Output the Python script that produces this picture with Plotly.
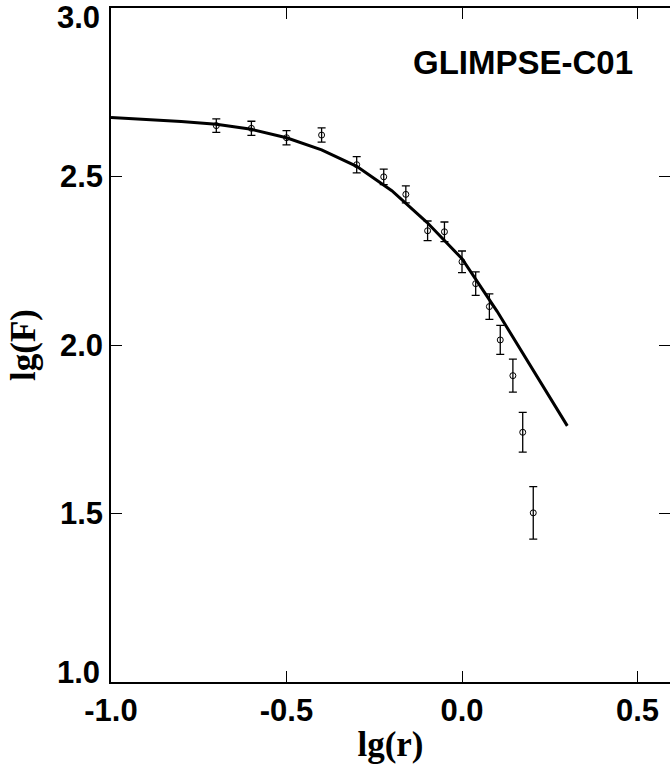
import plotly.graph_objects as go

# Observed data points
lg_r = [-0.70, -0.60, -0.50, -0.40, -0.30, -0.223, -0.160, -0.098, -0.050, 0.000, 0.039, 0.078, 0.109, 0.145, 0.173, 0.203]
lg_F = [2.651, 2.643, 2.615, 2.623, 2.535, 2.499, 2.447, 2.339, 2.336, 2.247, 2.182, 2.114, 2.015, 1.909, 1.741, 1.502]
err_F = [0.020, 0.021, 0.021, 0.021, 0.024, 0.023, 0.025, 0.029, 0.029, 0.032, 0.035, 0.038, 0.043, 0.049, 0.059, 0.078]

# Model curve
model_r = [-1.0, -0.9, -0.8, -0.7, -0.6, -0.5, -0.4, -0.3, -0.2, -0.1, 0.0, 0.1, 0.2, 0.3]
model_F = [2.675, 2.670, 2.663, 2.655, 2.640, 2.615, 2.579, 2.530, 2.458, 2.364, 2.256, 2.100, 1.930, 1.760]

x_ticks = [-1.0, -0.5, 0.0, 0.5]
x_ticktext = ["-1.0", "-0.5", "0.0", "0.5"]
y_ticks = [1.0, 1.5, 2.0, 2.5, 3.0]
y_ticktext = ["1.0", "1.5", "2.0", "2.5", "3.0"]

label_text = "GLIMPSE-C01"
x_title = "lg(r)"
y_title = "lg(F)"

TICK_FONT = dict(family="Liberation Sans, Arial", size=31, color="black", weight="bold")
TITLE_FONT = dict(family="Liberation Serif, Times New Roman", size=35, color="black", weight="bold")

fig = go.Figure()
fig.add_trace(go.Scatter(
    x=model_r, y=model_F, mode="lines",
    line=dict(color="black", width=3), showlegend=False, hoverinfo="skip"))
fig.add_trace(go.Scatter(
    x=lg_r, y=lg_F, mode="markers",
    marker=dict(symbol="circle-open", size=6, color="black", line=dict(width=1, color="black")),
    error_y=dict(type="data", array=err_F, visible=True, color="black", thickness=1.3, width=4),
    showlegend=False))
# invisible anchor trace so the right-hand tick axis is drawn
fig.add_trace(go.Scatter(
    x=[model_r[0]], y=[model_F[0]], yaxis="y2", mode="markers",
    marker=dict(opacity=0), showlegend=False, hoverinfo="skip"))

fig.add_annotation(x=0.4929, y=2.838, xref="x", yref="y", text=label_text,
                   showarrow=False, xanchor="right", yanchor="middle",
                   font=dict(family="Liberation Sans, Arial", size=33, color="black", weight="bold"))

# end labels of the y axis sit inside the frame (top-aligned / bottom-aligned)
y_shown = [t if v not in (1.0, 3.0) else "" for v, t in zip(y_ticks, y_ticktext)]
fig.add_annotation(x=-1.0, y=3.0, xref="x", yref="y", text=y_ticktext[-1], showarrow=False,
                   xanchor="right", yanchor="middle", xshift=-9, yshift=-9, font=TICK_FONT)
fig.add_annotation(x=-1.0, y=1.0, xref="x", yref="y", text=y_ticktext[0], showarrow=False,
                   xanchor="right", yanchor="middle", xshift=-9, yshift=9.5, font=TICK_FONT)

# y-axis title
fig.add_annotation(x=(23 - 111) / 559, y=0.5, xref="paper", yref="paper", text=y_title,
                   showarrow=False, textangle=-90, xanchor="center", yanchor="middle",
                   font=TITLE_FONT)

tick_common = dict(ticks="inside", ticklen=11, tickwidth=1.3, tickcolor="black",
                   showgrid=False, zeroline=False, tickfont=TICK_FONT)

fig.update_layout(
    width=670, height=764, margin=dict(l=111, r=0, t=8, b=82),
    plot_bgcolor="white", paper_bgcolor="white",
    xaxis=dict(range=[-1.0, 0.5926], tickvals=x_ticks, ticktext=x_ticktext,
               showline=True, linecolor="black", linewidth=1.5, mirror="ticks",
               title=dict(text=x_title, standoff=10, font=TITLE_FONT), **tick_common),
    yaxis=dict(range=[1.0, 3.0], tickvals=y_ticks, ticktext=y_shown,
               showline=True, linecolor="black", linewidth=1.5, mirror=False, **tick_common),
    yaxis2=dict(range=[1.0, 3.0], tickvals=y_ticks, overlaying="y", side="right",
                showline=False, showticklabels=False, **tick_common),
)

fig.write_html("out.html", config={"displayModeBar": False},
               post_script="document.body.style.margin='0px';document.body.style.overflow='hidden';")
